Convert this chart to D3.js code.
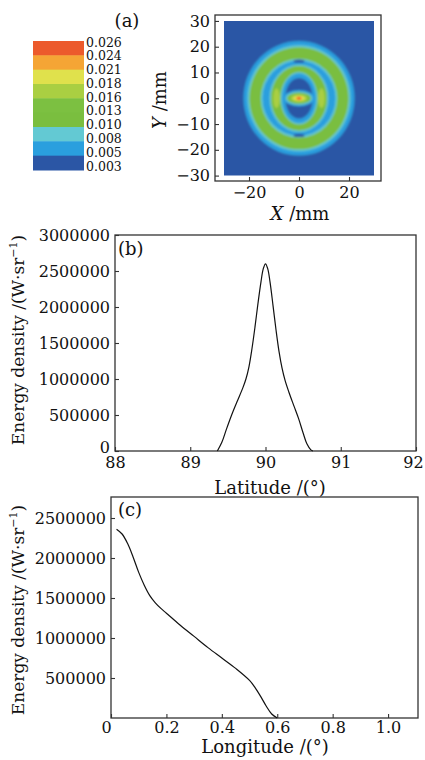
<!DOCTYPE html>
<html>
<head>
<meta charset="utf-8">
<script src="https://cdn.jsdelivr.net/npm/d3@7"></script>
<style>
    body { margin: 0; background: #fff; }
    svg text { font-family: "DejaVu Serif", serif; fill: #111; }
</style>
</head>
<body>
<svg id="chart" width="425" height="760"></svg>
<script>
// legend of panel (a), top to bottom
const legendLabels = ['0.026', '0.024', '0.021', '0.018', '0.016', '0.013', '0.010', '0.008', '0.005', '0.003'];
// colour bands, low to high, split at these levels
const levelBreaks = [0.005, 0.008, 0.010, 0.013, 0.016, 0.018, 0.021, 0.024];
const levelColors = ['#2b56a5', '#2a9fde', '#63c9d3', '#7abe3f', '#7cc041', '#aacf42', '#e0e14c', '#f5a535', '#ec5a2c'];

// panel (a) contour field, as nested zones in mm (outermost first)
const zoneCx    = [0, 0, 0, 0, 0, 0, 0, 0, 0, 0, -9, 9, 0, 0, 0, 0, 0, 0, 0, 0, 0, 0];
const zoneCy    = [0, 0, 0, 0, 0, 14.4, -14.4, 0, 0, 0, 0, 0, 0, 0, 0, 0, 0, 0, 0, 0, 0, 0];
const zoneRx    = [22.2, 20.6, 19.8, 15.3, 14.6, 2.2, 2.2, 11.8, 11.2, 11.1, 1.35, 1.35, 7.4, 6.9, 5.5, 6.2, 5.3, 4.7, 3.3, 2.3, 1.3, 0.7];
const zoneRy    = [22.2, 20.6, 19.8, 15.3, 14.6, 0.6, 0.6, 13.1, 12.5, 12.4, 3.9, 3.9, 10.2, 9.7, 7.9, 3.2, 2.6, 2.2, 1.5, 1.0, 0.7, 0.6];
const zoneLevel = [0.006, 0.009, 0.012, 0.009, 0.006, 0.004, 0.004, 0.009, 0.012, 0.012, 0.017, 0.017, 0.009, 0.006, 0.004, 0.006, 0.009, 0.012, 0.017, 0.020, 0.022, 0.025];
const mmTicks = [-30, -20, -10, 0, 10, 20, 30];
const mmXTicks = [-20, 0, 20];

// panel (b) energy density vs latitude
const latitude = [89.36, 89.42, 89.48, 89.55, 89.62, 89.7, 89.74, 89.78, 89.82, 89.86, 89.9, 89.94, 89.97, 90, 90.03, 90.06, 90.1, 90.14, 90.18, 90.22, 90.26, 90.31, 90.38, 90.44, 90.5, 90.55, 90.6, 90.63];
const latEnergy = [0, 120000, 300000, 500000, 680000, 880000, 1000000, 1170000, 1420000, 1720000, 2050000, 2350000, 2530000, 2600000, 2530000, 2350000, 2020000, 1680000, 1380000, 1150000, 980000, 820000, 620000, 450000, 250000, 100000, 20000, 0];
const latTicks = [88, 89, 90, 91, 92];
const latYTicks = [0, 500000, 1000000, 1500000, 2000000, 2500000, 3000000];

// panel (c) energy density vs longitude
const longitude = [0.02, 0.04, 0.06, 0.08, 0.1, 0.12, 0.14, 0.16, 0.18, 0.2, 0.25, 0.3, 0.35, 0.4, 0.45, 0.5, 0.52, 0.54, 0.56, 0.58, 0.6];
const lonEnergy = [2360000, 2300000, 2180000, 2010000, 1820000, 1660000, 1530000, 1440000, 1370000, 1310000, 1160000, 1020000, 880000, 750000, 620000, 470000, 380000, 270000, 150000, 50000, 0];
const lonTicks = [0, 0.2, 0.4, 0.6, 0.8, 1.0];
const lonYTicks = [500000, 1000000, 1500000, 2000000, 2500000];

const svg = d3.select('#chart');
const color = d3.scaleThreshold().domain(levelBreaks).range(levelColors);

function drawFrame(x, y) {
    svg.append('rect')
        .attr('x', x.range()[0]).attr('y', y.range()[1])
        .attr('width', x.range()[1] - x.range()[0])
        .attr('height', y.range()[0] - y.range()[1])
        .attr('fill', 'none').attr('stroke', '#333').attr('stroke-width', 1.3);
}

function styleAxis(g, size) {
    g.select('.domain').remove();
    g.attr('font-size', size).attr('color', '#333');
    g.selectAll('line').attr('stroke-width', 1.1);
}

function yLabel(x, y, main, sup, tail) {
    let t = svg.append('text')
        .attr('transform', `translate(${x},${y}) rotate(-90)`)
        .attr('text-anchor', 'middle')
        .attr('font-size', 17);
    t.append('tspan').text(main);
    if (sup) {
        t.append('tspan').attr('font-size', 11).attr('dy', -7).text(sup);
        t.append('tspan').attr('dy', 7).text(tail);
    }
    return t;
}

//Legend of panel (a)
let legY = d3.scaleLinear().domain([0, 9]).range([41, 170]);
let labY = d3.scaleLinear().domain([0, 9]).range([42, 166]);
let bandsTopDown = levelColors.slice().reverse();
svg.append('g').selectAll('rect')
    .data(bandsTopDown)
    .enter().append('rect')
    .attr('x', 33).attr('width', 51)
    .attr('y', (d, i) => legY(i))
    .attr('height', (d, i) => legY(i + 1) - legY(i) + 0.5)
    .attr('fill', d => d);
svg.append('g').selectAll('text')
    .data(legendLabels)
    .enter().append('text')
    .attr('x', 86)
    .attr('y', (d, i) => labY(i))
    .attr('dy', '0.36em')
    .attr('font-size', 12.5)
    .text(d => d);

svg.append('text').attr('x', 127).attr('y', 27).attr('text-anchor', 'middle')
    .attr('font-size', 18).text('(a)');

//Contour map of panel (a)
let xA = d3.scaleLinear().domain([-33.6, 32.8]).range([215, 381]);
let yA = d3.scaleLinear().domain([-32.1, 32.3]).range([181, 15]);

let defs = svg.append('defs');
defs.append('filter').attr('id', 'soft')
    .attr('x', '-5%').attr('y', '-5%').attr('width', '110%').attr('height', '110%')
    .append('feGaussianBlur').attr('stdDeviation', 0.9);
defs.append('clipPath').attr('id', 'mapClip')
    .append('rect')
    .attr('x', xA(-30)).attr('y', yA(30))
    .attr('width', xA(30) - xA(-30)).attr('height', yA(-30) - yA(30));

let map = svg.append('g').attr('clip-path', 'url(#mapClip)')
    .append('g').attr('filter', 'url(#soft)');
map.append('rect')
    .attr('x', xA(-31)).attr('y', yA(31))
    .attr('width', xA(31) - xA(-31)).attr('height', yA(-31) - yA(31))
    .attr('fill', color(0.004));
map.selectAll('ellipse')
    .data(zoneLevel)
    .enter().append('ellipse')
    .attr('cx', (d, i) => xA(zoneCx[i]))
    .attr('cy', (d, i) => yA(zoneCy[i]))
    .attr('rx', (d, i) => xA(zoneRx[i]) - xA(0))
    .attr('ry', (d, i) => yA(0) - yA(zoneRy[i]))
    .attr('fill', d => color(d));

drawFrame(xA, yA);
svg.append('g').attr('transform', `translate(0,${yA.range()[0]})`)
    .call(d3.axisBottom(xA).tickValues(mmXTicks).tickSize(-4).tickPadding(6).tickFormat(d3.format('d')))
    .call(g => styleAxis(g, 16));
svg.append('g').attr('transform', `translate(${xA.range()[0]},0)`)
    .call(d3.axisLeft(yA).tickValues(mmTicks).tickSize(-4).tickPadding(5).tickFormat(d3.format('d')))
    .call(g => styleAxis(g, 16));

let xLab = svg.append('text').attr('x', 300).attr('y', 220).attr('text-anchor', 'middle').attr('font-size', 18);
xLab.append('tspan').attr('font-style', 'italic').text('X');
xLab.append('tspan').text(' /mm');
let yLab = svg.append('text').attr('transform', 'translate(166,100) rotate(-90)')
    .attr('text-anchor', 'middle').attr('font-size', 18);
yLab.append('tspan').attr('font-style', 'italic').text('Y');
yLab.append('tspan').text(' /mm');

//Panel (b)
let xB = d3.scaleLinear().domain([88, 92]).range([115, 416]);
let yB = d3.scaleLinear().domain([0, 3000000]).range([451, 235]);
drawFrame(xB, yB);
svg.append('path')
    .datum(latitude)
    .attr('d', d3.line().x(d => xB(d)).y((d, i) => yB(latEnergy[i])).curve(d3.curveCatmullRom.alpha(0.5)))
    .attr('fill', 'none').attr('stroke', '#111').attr('stroke-width', 1.2);
svg.append('g').attr('transform', `translate(0,${yB.range()[0]})`)
    .call(d3.axisBottom(xB).tickValues(latTicks).tickSize(-4).tickPadding(6).tickFormat(d3.format('d')))
    .call(g => styleAxis(g, 16))
    .call(g => g.selectAll('text').filter(d => d === 92).attr('dx', -3));
svg.append('g').attr('transform', `translate(${xB.range()[0]},0)`)
    .call(d3.axisLeft(yB).tickValues(latYTicks).tickSize(-4).tickPadding(5).tickFormat(d3.format('d')))
    .call(g => styleAxis(g, 16))
    .call(g => g.selectAll('text').filter(d => d === 0).attr('dy', '0.1em'));
svg.append('text').attr('x', 118).attr('y', 255).attr('font-size', 18).text('(b)');
svg.append('text').attr('x', 270).attr('y', 494).attr('text-anchor', 'middle').attr('font-size', 18).text('Latitude /(°)');
yLabel(24, 340, 'Energy density /(W·sr', '−1', ')');

//Panel (c)
let xC = d3.scaleLinear().domain([0, 1.108]).range([111, 418]);
let yC = d3.scaleLinear().domain([0, 2762500]).range([718, 497]);
drawFrame(xC, yC);
svg.append('path')
    .datum(longitude)
    .attr('d', d3.line().x(d => xC(d)).y((d, i) => yC(lonEnergy[i])).curve(d3.curveCatmullRom.alpha(0.5)))
    .attr('fill', 'none').attr('stroke', '#111').attr('stroke-width', 1.2);
svg.append('g').attr('transform', `translate(0,${yC.range()[0]})`)
    .call(d3.axisBottom(xC).tickValues(lonTicks).tickSize(-4).tickPadding(4)
        .tickFormat(d => d === 0 ? '0' : d3.format('.1f')(d)))
    .call(g => styleAxis(g, 16))
    .call(g => g.selectAll('text').filter(d => d === 0).attr('dx', -5));
svg.append('g').attr('transform', `translate(${xC.range()[0]},0)`)
    .call(d3.axisLeft(yC).tickValues(lonYTicks).tickSize(-4).tickPadding(5).tickFormat(d3.format('d')))
    .call(g => styleAxis(g, 16));
svg.append('text').attr('x', 118).attr('y', 516).attr('font-size', 18).text('(c)');
svg.append('text').attr('x', 265).attr('y', 753).attr('text-anchor', 'middle').attr('font-size', 18).text('Longitude /(°)');
yLabel(24, 610, 'Energy density /(W·sr', '−1', ')');
</script>
</body>
</html>
